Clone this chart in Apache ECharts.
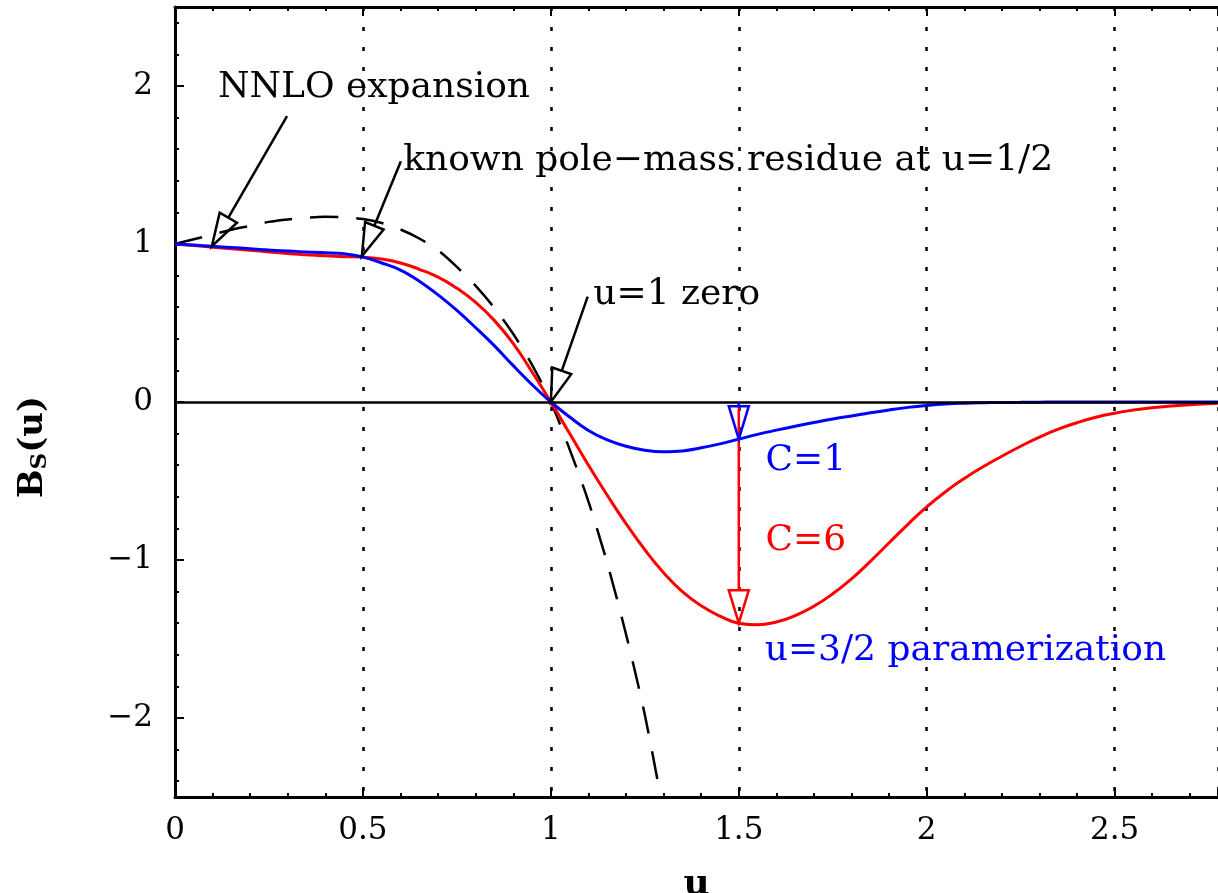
<!DOCTYPE html>
<html>
<head>
<meta charset="utf-8">
<script src="https://cdn.jsdelivr.net/npm/echarts@6/dist/echarts.min.js"></script>
<style>
  html, body { margin: 0; padding: 0; background: #fff; }
  #chart { width: 1218px; height: 893px; }
</style>
</head>
<body>
<div id="chart"></div>
<script>
// u grid shared by the curves (step 0.05)
const uGrid = [0, 0.05, 0.1, 0.15, 0.2, 0.25, 0.3, 0.35, 0.4, 0.45, 0.5, 0.55, 0.6, 0.65, 0.7, 0.75,
  0.8, 0.85, 0.9, 0.95, 1.0, 1.05, 1.1, 1.15, 1.2, 1.25, 1.3, 1.35, 1.4, 1.45, 1.5, 1.55, 1.6, 1.65,
  1.7, 1.75, 1.8, 1.85, 1.9, 1.95, 2.0, 2.05, 2.1, 2.15, 2.2, 2.25, 2.3, 2.35, 2.4, 2.45, 2.5, 2.55,
  2.6, 2.65, 2.7, 2.75, 2.8];

// C=1 (blue)
const blueC1 = [1.0, 0.993, 0.985, 0.978, 0.97, 0.962, 0.955, 0.95, 0.945, 0.938, 0.918, 0.88, 0.835,
  0.765, 0.678, 0.58, 0.47, 0.355, 0.23, 0.11, 0, -0.095, -0.18, -0.24, -0.28, -0.305, -0.315, -0.31,
  -0.29, -0.265, -0.235, -0.205, -0.178, -0.153, -0.13, -0.108, -0.088, -0.068, -0.05, -0.034, -0.022,
  -0.013, -0.008, -0.005, -0.003, -0.002, -0.001, 0, 0, 0, 0, 0, 0, 0, 0, 0, 0];

// C=6 (red)
const redC6 = [1.0, 0.99, 0.98, 0.97, 0.96, 0.95, 0.94, 0.932, 0.925, 0.92, 0.917, 0.905, 0.88, 0.84,
  0.79, 0.72, 0.63, 0.515, 0.37, 0.19, 0, -0.2, -0.4, -0.59, -0.77, -0.935, -1.08, -1.2, -1.29, -1.355,
  -1.40, -1.41, -1.392, -1.352, -1.292, -1.214, -1.119, -1.009, -0.891, -0.774, -0.664, -0.568, -0.484,
  -0.41, -0.343, -0.28, -0.222, -0.172, -0.131, -0.097, -0.071, -0.051, -0.036, -0.025, -0.017,
  -0.011, -0.006];

// NNLO expansion (dashed), u = 0 ... 1.3
const nnlo = [1.0, 1.03, 1.06, 1.09, 1.115, 1.14, 1.155, 1.167, 1.172, 1.17, 1.158, 1.133, 1.092,
  1.035, 0.96, 0.855, 0.735, 0.595, 0.43, 0.235, 0.0, -0.3, -0.63, -1.02, -1.47, -1.98, -2.6];

// arrows: [u start, B start, u tip, B tip]
const arrows = [
  [0.298, 1.81, 0.098, 0.986],
  [0.601, 1.524, 0.497, 0.922],
  [1.098, 0.667, 1.0, 0.0],
  [1.5, 0.0, 1.5, -1.40],
  [1.5, 0.0, 1.5, -0.235]
];
const arrowColors = ['#000000', '#000000', '#000000', '#ff0000', '#0000ff'];

// annotation texts, anchored (left, middle) at [u, B]
const notes = ['NNLO expansion', 'known pole\u2212mass residue at u=1/2', 'u=1 zero',
  'C=1', 'C=6', 'u=3/2 paramerization'];
const noteAnchors = [[0.1145, 1.99], [0.607, 1.528], [1.113, 0.678],
  [1.571, -0.368], [1.571, -0.875], [1.569, -1.573]];
const noteColors = ['#000000', '#000000', '#000000', '#0000ff', '#ff0000', '#0000ff'];

const FONT = 'DejaVu Serif';
const chart = echarts.init(document.getElementById('chart'));

function pairs(ys) {
  return ys.map((y, i) => [uGrid[i], y]);
}

function renderArrow(params, api) {
  const p0 = api.coord([api.value(0), api.value(1)]);
  const p1 = api.coord([api.value(2), api.value(3)]);
  const color = arrowColors[params.dataIndex];
  const dx = p1[0] - p0[0], dy = p1[1] - p0[1];
  const len = Math.sqrt(dx * dx + dy * dy);
  const ux = dx / len, uy = dy / len;
  const headLen = 33, headW = 10;
  const bx = p1[0] - ux * headLen, by = p1[1] - uy * headLen;
  const nx = -uy, ny = ux;
  return {
    type: 'group',
    children: [
      { type: 'line', shape: { x1: p0[0], y1: p0[1], x2: bx, y2: by },
        style: { stroke: color, lineWidth: 2.5 } },
      { type: 'polygon',
        shape: { points: [[p1[0], p1[1]], [bx + nx * headW, by + ny * headW], [bx - nx * headW, by - ny * headW]] },
        style: { stroke: color, fill: null, lineWidth: 2.5, lineJoin: 'miter' } }
    ]
  };
}

function renderNote(params, api) {
  const p = api.coord([api.value(0), api.value(1)]);
  return {
    type: 'text', x: p[0], y: p[1],
    style: {
      text: notes[params.dataIndex], fill: noteColors[params.dataIndex],
      fontFamily: FONT, fontSize: 36, align: 'left', verticalAlign: 'middle'
    }
  };
}

const tickLine = { color: '#000', width: 2 };

const option = {
  animation: false,
  backgroundColor: '#fff',
  grid: { left: 175, right: 0, top: 7, bottom: 96, outerBoundsMode: 'none', containLabel: false },
  xAxis: [
    {
      type: 'value', position: 'bottom', min: 0, max: 2.775, interval: 0.5,
      name: 'u', nameLocation: 'middle', nameGap: 70,
      nameTextStyle: { fontFamily: FONT, fontSize: 36, fontWeight: 'bold', color: '#000' },
      axisLine: { onZero: false, lineStyle: { color: '#000', width: 3 } },
      axisTick: { inside: true, length: 9, lineStyle: tickLine },
      minorTick: { show: true, splitNumber: 5, length: 4, lineStyle: tickLine },
      axisLabel: { fontFamily: FONT, fontSize: 31, color: '#000', margin: 18, showMaxLabel: false },
      splitLine: { show: true, lineStyle: { color: '#000', type: [4, 16], width: 2.5 } }
    },
    {
      type: 'value', position: 'top', min: 0, max: 2.775, interval: 0.5,
      axisLine: { onZero: false, lineStyle: { color: '#000', width: 3 } },
      axisTick: { inside: true, length: 9, lineStyle: tickLine },
      minorTick: { show: true, splitNumber: 5, length: 4, lineStyle: tickLine },
      axisLabel: { show: false },
      splitLine: { show: false }
    }
  ],
  yAxis: {
    type: 'value', min: -2.5, max: 2.5, splitNumber: 5,
    axisLine: { onZero: false, lineStyle: { color: '#000', width: 3 } },
    axisTick: { inside: true, length: 9, lineStyle: tickLine },
    minorTick: { show: true, splitNumber: 5, length: 4, lineStyle: tickLine },
    axisLabel: {
      fontFamily: FONT, fontSize: 31, color: '#000', margin: 22,
      showMinLabel: false, showMaxLabel: false,
      formatter: v => String(v).replace('-', '\u2212')
    },
    splitLine: { show: false }
  },
  graphic: [
    {
      type: 'text', x: 33, y: 447, rotation: Math.PI / 2,
      style: {
        text: '{b|B}{s|S}{b|(u)}', align: 'center', verticalAlign: 'middle',
        rich: {
          b: { fontFamily: FONT, fontSize: 34, fontWeight: 'bold', fill: '#000' },
          s: { fontFamily: FONT, fontSize: 23, fontWeight: 'bold', fill: '#000', padding: [14, 0, 0, 0] }
        }
      }
    }
  ],
  series: [
    {
      name: 'NNLO', type: 'line', data: uGrid.slice(0, nnlo.length).map((u, i) => [u, nnlo[i]]),
      showSymbol: false, smooth: 0.3, z: 2,
      lineStyle: { color: '#000', width: 2.5, type: [28, 18] },
      markLine: {
        silent: true, symbol: ['none', 'none'], label: { show: false },
        lineStyle: { color: '#000', type: 'solid', width: 2.5 },
        data: [{ yAxis: 0 }]
      }
    },
    {
      name: 'C=6', type: 'line', data: pairs(redC6), showSymbol: false, smooth: 0.5, z: 3,
      lineStyle: { color: '#ff0000', width: 3 }
    },
    {
      name: 'C=1', type: 'line', data: pairs(blueC1), showSymbol: false, smooth: 0.4, z: 4,
      lineStyle: { color: '#0000ff', width: 3 }
    },
    {
      name: 'arrows', type: 'custom', renderItem: renderArrow, data: arrows, z: 5, clip: false,
      encode: { x: [0, 2], y: [1, 3] }
    },
    {
      name: 'notes', type: 'custom', renderItem: renderNote, data: noteAnchors, z: 6, clip: false
    }
  ]
};

chart.setOption(option);
</script>
</body>
</html>
